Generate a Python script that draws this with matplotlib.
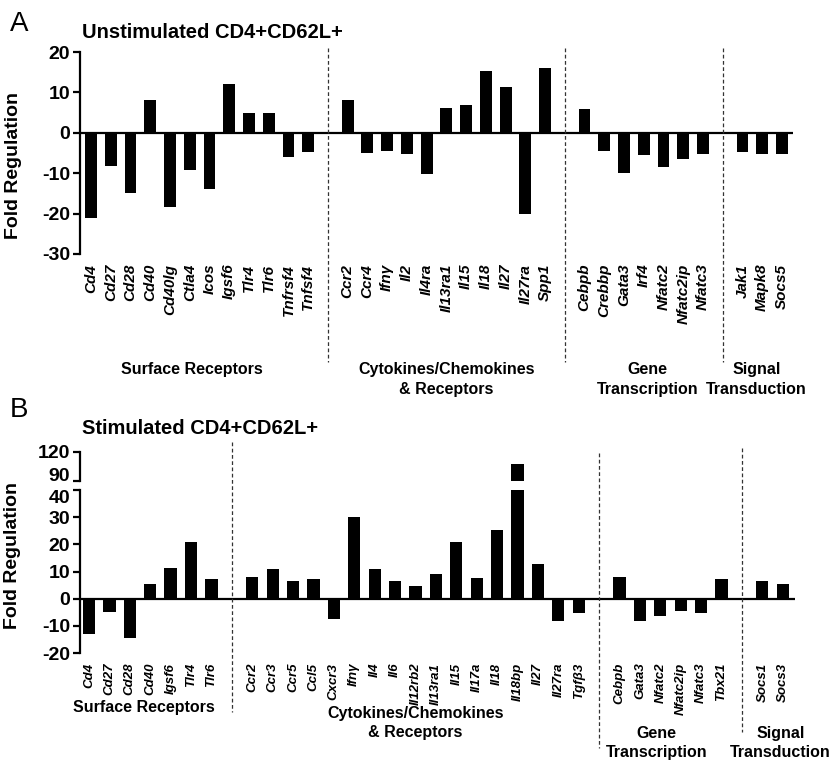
import matplotlib
matplotlib.use('Agg')
import matplotlib.pyplot as plt

plt.rcParams['font.family'] = ['Liberation Sans', 'DejaVu Sans']
plt.rcParams['axes.unicode_minus'] = False

# ---- panel A: unstimulated
a_surface = ['Cd4', 'Cd27', 'Cd28', 'Cd40', 'Cd40lg', 'Ctla4', 'Icos', 'Igsf6',
             'Tlr4', 'Tlr6', 'Tnfrsf4', 'Tnfsf4']
a_surface_val = [-21, -8.3, -15, 8, -18.4, -9.2, -14, 12.2, 4.8, 4.8, -6, -4.7]
a_cyto = ['Ccr2', 'Ccr4', 'Ifnγ', 'Il2', 'Il4ra', 'Il13ra1', 'Il15', 'Il18',
          'Il27', 'Il27ra', 'Spp1']
a_cyto_val = [8, -5, -4.4, -5.2, -10.2, 6.2, 6.8, 15.3, 11.4, -20, 16]
a_gene = ['Cebpb', 'Crebbp', 'Gata3', 'Irf4', 'Nfatc2', 'Nfatc2ip', 'Nfatc3']
a_gene_val = [5.8, -4.4, -10, -5.5, -8.4, -6.5, -5.2]
a_signal = ['Jak1', 'Mapk8', 'Socs5']
a_signal_val = [-4.7, -5.2, -5.3]

# ---- panel B: stimulated
b_surface = ['Cd4', 'Cd27', 'Cd28', 'Cd40', 'Igsf6', 'Tlr4', 'Tlr6']
b_surface_val = [-13.1, -5, -14.3, 5.4, 11.2, 21, 7.1]
b_cyto = ['Ccr2', 'Ccr3', 'Ccr5', 'Ccl5', 'Cxcr3', 'Ifnγ', 'Il4', 'Il6',
          'Il12rb2', 'Il13ra1', 'Il15', 'Il17a', 'Il18', 'Il18bp', 'Il27',
          'Il27ra', 'Tgfβ3']
b_cyto_val = [7.9, 10.9, 6.5, 7.4, -7.5, 30.2, 10.9, 6.6, 4.8, 9, 20.9, 7.5,
              25.4, 108, 12.7, -8.1, -5.4]
b_gene = ['Cebpb', 'Gata3', 'Nfatc2', 'Nfatc2ip', 'Nfatc3', 'Tbx21']
b_gene_val = [8.1, -8.1, -6.25, -4.6, -5.4, 7.1]
b_signal = ['Socs1', 'Socs3']
b_signal_val = [6.5, 5.5]

group_names = ['Surface Receptors', 'Cytokines/Chemokines\n& Receptors',
               'Gene\nTranscription', 'Signal\nTransduction']


def layout(groups):
    # one empty slot between groups
    pos, labs, vals, gaps, centers = [], [], [], [], []
    i = 0
    for k, (names, v) in enumerate(groups):
        start = i
        for n, val in zip(names, v):
            pos.append(i)
            labs.append(n)
            vals.append(val)
            i += 1
        centers.append((start + i - 1) / 2)
        if k < len(groups) - 1:
            gaps.append(i)
            i += 1
    return pos, labs, vals, gaps, centers


fig = plt.figure(figsize=(8.38, 7.68), dpi=100)
H = 768.0
W = 838.0


def fy(px):
    return 1 - px / H


def style_axis(ax):
    for s in ['top', 'right', 'bottom']:
        ax.spines[s].set_visible(False)
    ax.spines['left'].set_linewidth(1.6)
    ax.tick_params(axis='y', width=1.6, length=5, labelsize=14, pad=2)
    for t in ax.get_yticklabels():
        t.set_fontweight('bold')


def xlabels(ax, pos, labs, size):
    ax.set_xticks(pos)
    ax.set_xticklabels(labs, rotation=90, fontsize=size, fontweight='bold',
                       fontstyle='italic', va='top')
    ax.tick_params(axis='x', length=0, pad=7)


# ================= panel A
posA, labA, valA, gapA, cenA = layout([(a_surface, a_surface_val),
                                       (a_cyto, a_cyto_val),
                                       (a_gene, a_gene_val),
                                       (a_signal, a_signal_val)])
axA = fig.add_axes([80 / W, fy(254), 713 / W, (254 - 52) / H])
axA.bar(posA, valA, width=0.6, color='black')
axA.set_xlim(-0.56, 35.56)
axA.set_ylim(-30, 20)
axA.set_yticks([-30, -20, -10, 0, 10, 20])
axA.axhline(0, color='black', lw=1.6)
style_axis(axA)
xlabels(axA, posA, labA, 11)
axA.set_ylabel('Fold Regulation', fontsize=14, fontweight='bold')
axA.yaxis.set_label_coords(-0.082, 0.44)

trA = axA.get_xaxis_transform()
for g in gapA:
    axA.plot([g, g], [(254 - 48) / 202, (254 - 362) / 202], transform=trA,
             color='#333333', lw=0.9, ls=(0, (3, 2)), clip_on=False)
offsA = [-0.4, 0, 0.2, -0.3]
for c, o, name in zip(cenA, offsA, group_names):
    axA.text(c + o, (254 - 362) / 202, name, transform=trA, ha='center',
             va='top', fontsize=11.5, fontweight='bold', linespacing=1.45)

fig.text(10 / W, fy(24), 'A', fontsize=20, va='center', ha='left')
fig.text(82 / W, fy(33), 'Unstimulated CD4+CD62L+', fontsize=14.5,
         fontweight='bold', va='center', ha='left')

# ================= panel B
posB, labB, valB, gapB, cenB = layout([(b_surface, b_surface_val),
                                       (b_cyto, b_cyto_val),
                                       (b_gene, b_gene_val),
                                       (b_signal, b_signal_val)])
xlimB = (-0.44, 34.6)
axB = fig.add_axes([80 / W, fy(653), 715 / W, (653 - 490) / H])
axB.bar(posB, valB, width=0.6, color='black')
axB.set_xlim(*xlimB)
axB.set_ylim(-20, 40)
axB.set_yticks([-20, -10, 0, 10, 20, 30, 40])
axB.axhline(0, color='black', lw=1.6)
style_axis(axB)
xlabels(axB, posB, labB, 9.5)
axB.yaxis.get_major_ticks()[-1].label1.set_va('top')
axB.set_ylabel('Fold Regulation', fontsize=14, fontweight='bold')
axB.yaxis.set_label_coords(-0.082, 0.6)

axBt = fig.add_axes([80 / W, fy(481), 715 / W, (481 - 452) / H])
axBt.bar(posB, valB, width=0.6, color='black')
axBt.set_xlim(*xlimB)
axBt.set_ylim(90, 120)
axBt.set_yticks([90, 120])
axBt.set_xticks([])
style_axis(axBt)
axBt.yaxis.get_major_ticks()[0].label1.set_va('baseline')
axBt.patch.set_alpha(0)

trB = axB.get_xaxis_transform()
hB = 163.0
dashB = [(442, 712), (453, 748), (448, 732)]
for g, (t, b) in zip(gapB, dashB):
    axB.plot([g, g], [(653 - t) / hB, (653 - b) / hB], transform=trB,
             color='#333333', lw=0.9, ls=(0, (3, 2)), clip_on=False)
label_y = [700, 706, 726, 726]
offsB = [-0.3, 0, -0.7, 0.4]
for c, o, y, name in zip(cenB, offsB, label_y, group_names):
    axB.text(c + o, (653 - y) / hB, name, transform=trB, ha='center',
             va='top', fontsize=11.5, fontweight='bold', linespacing=1.35)

fig.text(10 / W, fy(410), 'B', fontsize=20, va='center', ha='left')
fig.text(82 / W, fy(428), 'Stimulated CD4+CD62L+', fontsize=14.5,
         fontweight='bold', va='center', ha='left')

fig.savefig('out.png', dpi=100)
